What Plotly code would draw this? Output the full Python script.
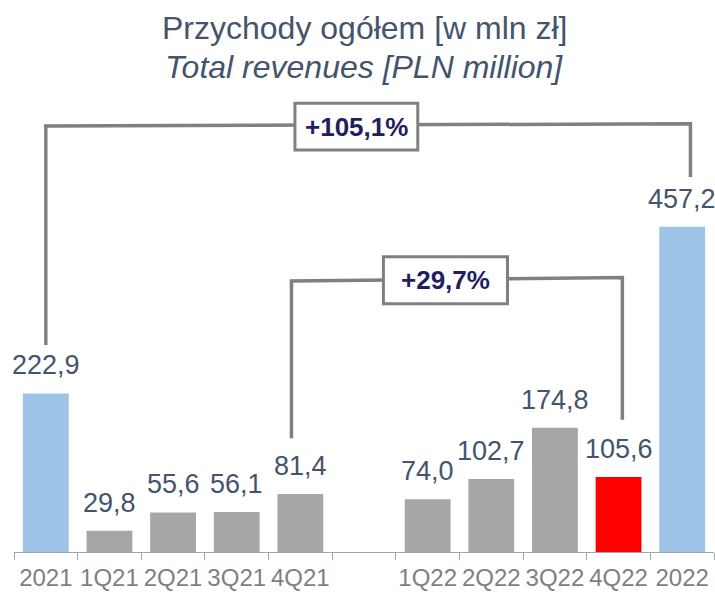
import plotly.graph_objects as go

categories = ["2021", "1Q21", "2Q21", "3Q21", "4Q21", " ", "1Q22", "2Q22", "3Q22", "4Q22", "2022"]
values = [222.9, 29.8, 55.6, 56.1, 81.4, None, 74.0, 102.7, 174.8, 105.6, 457.2]
kinds = ["year", "q", "q", "q", "q", "gap", "q", "q", "q", "cur", "year"]
growth_year = "+105,1%"
growth_q = "+29,7%"

color_map = {"year": "#9dc3e6", "q": "#a6a6a6", "cur": "#ff0000", "gap": "rgba(0,0,0,0)"}
colors = [color_map[k] for k in kinds]

FONT = "Liberation Sans, Arial, sans-serif"
LABEL_C = "#44546a"
LINE_C = "#808080"

fig = go.Figure()
fig.add_bar(x=categories, y=[v if v is not None else 0 for v in values],
            marker=dict(color=colors, line=dict(width=0)), hoverinfo="skip")

def fmt(v):
    return f"{v:.1f}".replace(".", ",")

for i, v in enumerate(values):
    if v is None:
        continue
    fig.add_annotation(x=i, y=v, text=fmt(v), showarrow=False, yanchor="bottom",
                       yshift=11, font=dict(family=FONT, size=27, color=LABEL_C))

# brackets
def bracket(x0, y0b, x1, y1b, yh0, yh1):
    fig.add_shape(type="path", path=f"M {x0},{y0b} L {x0},{yh0} L {x1},{yh1} L {x1},{y1b}",
                  line=dict(color=LINE_C, width=3.5), xref="x", yref="y")

bracket(0.0, 291, 10.13, 527, 599, 602)
bracket(3.86, 160, 9.06, 186, 381, 386)

def box(xc, yc, w, h, text):
    fig.add_shape(type="rect", x0=xc - w / 2, x1=xc + w / 2, y0=yc - h / 2, y1=yc + h / 2,
                  line=dict(color=LINE_C, width=3), fillcolor="white", xref="x", yref="y")
    fig.add_annotation(x=xc, y=yc, text=f"<b>{text}</b>", showarrow=False,
                       font=dict(family=FONT, size=26, color="#1f2060"))

box(4.88, 598, 1.93, 66, growth_year)
box(6.28, 382, 1.95, 66, growth_q)

fig.add_annotation(xref="paper", yref="y", x=0.5, y=737, text="Przychody ogółem [w mln zł]",
                   showarrow=False, font=dict(family=FONT, size=32, color=LABEL_C))
fig.add_annotation(xref="paper", yref="y", x=0.5, y=682, text="<i>Total revenues [PLN million]</i>",
                   showarrow=False, font=dict(family=FONT, size=32, color=LABEL_C))

fig.update_layout(
    width=715, height=596,
    margin=dict(l=14, r=1, t=0, b=44, autoexpand=False),
    paper_bgcolor="white", plot_bgcolor="white",
    bargap=0.28, showlegend=False,
    xaxis=dict(type="category", range=[-0.5, 10.5], tickson="boundaries",
               ticks="outside", ticklen=7, tickcolor="#a6a6a6", tickwidth=1,
               tickangle=0, automargin=False, ticklabelstandoff=4,
               showline=True, linecolor="#a6a6a6", linewidth=1, showgrid=False,
               tickfont=dict(family=FONT, size=24, color="#7f7f7f")),
    yaxis=dict(range=[0, 776], visible=False, showgrid=False, zeroline=False),
)

fig.write_html("out.html", config={"displayModeBar": False, "staticPlot": True},
               post_script="document.body.style.margin='0px';document.body.style.overflow='hidden';")
